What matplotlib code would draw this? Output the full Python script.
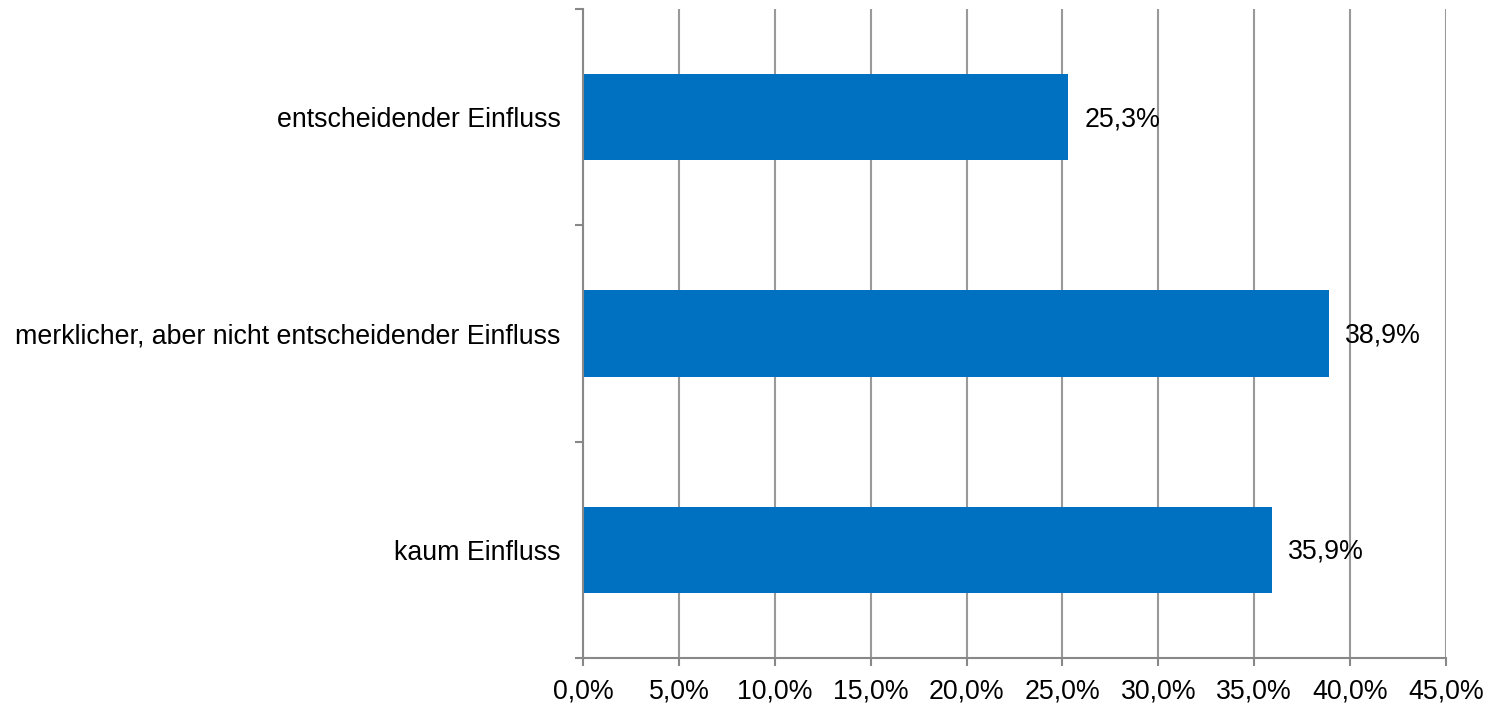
import matplotlib.pyplot as plt
from matplotlib.ticker import FuncFormatter, FixedLocator

plt.rcParams['font.family'] = ['Liberation Sans', 'DejaVu Sans']

# categories from top to bottom
categories = ['entscheidender Einfluss',
              'merklicher, aber nicht entscheidender Einfluss',
              'kaum Einfluss']
values = [25.3, 38.9, 35.9]

fig = plt.figure(figsize=(14.9, 7.05), dpi=100)
ax = fig.add_axes([0.3913, 0.0667, 0.5792, 0.9205])

ypos = [2, 1, 0]
ax.barh(ypos, values, height=0.4, color='#0070C0', zorder=2)

for y, v in zip(ypos, values):
    ax.text(v + 0.85, y - 0.01, f'{v:.1f}%'.replace('.', ','), va='center', ha='left',
            fontsize=19.3, zorder=3)

ax.set_xlim(0, 45)
ax.set_ylim(-0.5, 2.5)
ax.set_xticks(range(0, 50, 5))
ax.xaxis.set_major_formatter(FuncFormatter(lambda x, p: f'{x:.1f}%'.replace('.', ',')))

# category labels at centers, tick marks at boundaries
ax.set_yticks(ypos)
ax.set_yticklabels(categories)
ax.yaxis.set_minor_locator(FixedLocator([-0.5, 0.5, 1.5, 2.5]))
ax.tick_params(axis='y', which='major', length=0, pad=16, labelsize=19.3)
ax.tick_params(axis='y', which='minor', length=6, width=1.5, color='#888888')
ax.tick_params(axis='x', length=6, width=1.5, color='#888888', labelsize=19.3, pad=8.5)

ax.grid(axis='x', color='#999999', linewidth=1.5, zorder=1)
ax.set_axisbelow(True)
for s in ['top', 'right']:
    ax.spines[s].set_visible(False)
for s in ['left', 'bottom']:
    ax.spines[s].set_color('#888888')
    ax.spines[s].set_linewidth(1.5)

fig.savefig('out.png', dpi=100)
